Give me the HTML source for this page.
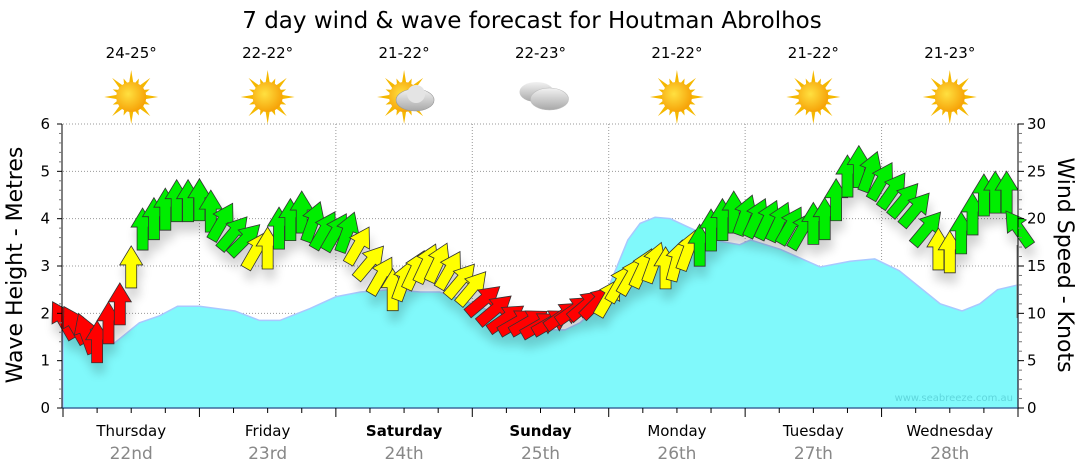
<!DOCTYPE html>
<html><head><meta charset="utf-8"><style>
html,body{margin:0;padding:0;background:#fff}
svg{display:block;font-family:"DejaVu Sans","Liberation Sans",sans-serif}
</style></head><body>
<svg id="chart" width="1080" height="475" viewBox="0 0 1080 475" xmlns="http://www.w3.org/2000/svg">
<defs>
<radialGradient id="sunG" cx="0.4" cy="0.4" r="0.7"><stop offset="0" stop-color="#ffe040"/><stop offset="1" stop-color="#f59a00"/></radialGradient>
<linearGradient id="cloudG" x1="0" y1="0" x2="0" y2="1"><stop offset="0" stop-color="#f2f2f2"/><stop offset="1" stop-color="#a8a8a8"/></linearGradient>
<filter id="shadow" x="-50%" y="-50%" width="200%" height="200%"><feGaussianBlur in="SourceAlpha" stdDeviation="5"/><feOffset dx="2" dy="10"/><feComponentTransfer><feFuncA type="linear" slope="0.18"/></feComponentTransfer><feMerge><feMergeNode/><feMergeNode in="SourceGraphic"/></feMerge></filter>
</defs>
<text x="532" y="28" font-size="23" text-anchor="middle" fill="#000">7 day wind &amp; wave forecast for Houtman Abrolhos</text>
<g id="header"></g>
<g id="grid"></g>
<g id="wave"></g>
<g id="arrows" filter="url(#shadow)"></g>
<g id="axes"></g>
<text x="1013" y="401" font-size="10" text-anchor="end" fill="#5fd6dc">www.seabreeze.com.au</text>
<text transform="translate(22,265) rotate(-90)" font-size="22" text-anchor="middle">Wave Height - Metres</text>
<text transform="translate(1058,265) rotate(90)" font-size="22" text-anchor="middle">Wind Speed - Knots</text>
</svg>
<script>
const dayNames=["Thursday","Friday","Saturday","Sunday","Monday","Tuesday","Wednesday"];
const dayDates=["22nd","23rd","24th","25th","26th","27th","28th"];
const dayTemps=["24-25°","22-22°","21-22°","22-23°","21-22°","21-22°","21-23°"];
const dayIcons=["sun","sun","suncloud","cloud","sun","sun","sun"];
const waveDay=[0,0.31,0.38,0.56,0.71,0.84,1.0,1.26,1.44,1.59,1.81,2.0,2.18,2.4,2.62,2.76,2.91,3.13,3.35,3.5,3.68,3.79,3.94,4.0,4.14,4.23,4.34,4.45,4.6,4.82,4.96,5.04,5.26,5.55,5.77,5.95,6.13,6.43,6.59,6.72,6.85,7.0];
const waveH=[1.71,1.37,1.38,1.8,1.95,2.15,2.15,2.05,1.85,1.85,2.1,2.35,2.45,2.5,2.45,2.45,2.3,2.05,1.85,1.65,1.65,1.8,2.2,2.56,3.55,3.9,4.03,4.0,3.8,3.52,3.45,3.55,3.35,2.98,3.1,3.15,2.9,2.2,2.05,2.2,2.5,2.6];
const windKn=[9.3,8.8,7.9,7.0,9.0,11,14.9,18.9,20,21,21.9,21.9,
22,20.8,19.7,18.5,17.8,16.7,16.9,19,19.9,20.7,19.7,18.8,
18.6,18.6,17.2,15.4,14,12.5,13.5,14.6,15.3,15.4,14.6,13.5,
12.7,11.4,10.4,9.5,9.1,9.1,8.8,9.1,9.8,10.4,10.9,11.2,
11.7,13.2,14,14.8,15.4,14.8,15.6,16.7,17.2,18.8,19.9,20.7,
20.4,20.1,19.9,19.7,19.3,18.8,19.5,20,22,24.5,25.5,25,
24,23,22,21,19,16.8,16.5,18.5,20.5,22.5,22.8,22.8,19];
const windDir=[-30,-30,-20,0,0,0,0,0,0,0,0,0,
0,0,30,40,45,30,0,0,0,0,20,30,
30,20,30,40,30,0,20,25,25,25,30,40,
40,50,50,55,60,60,60,60,55,55,50,45,
30,30,30,25,20,0,15,20,0,0,0,0,
20,25,25,25,30,30,0,0,0,0,0,20,
30,35,40,40,40,0,0,0,0,0,0,0,-35];
const windCol=["r","r","r","r","r","r","y","g","g","g","g","g",
"g","g","g","g","g","y","y","g","g","g","g","g",
"g","g","y","y","y","y","y","y","y","y","y","y",
"y","r","r","r","r","r","r","r","r","r","r","r",
"y","y","y","y","y","y","y","y","g","g","g","g",
"g","g","g","g","g","g","g","g","g","g","g","g",
"g","g","g","g","g","y","y","g","g","g","g","g","g"];
const leftTicks=["0","1","2","3","4","5","6"];
const rightTicks=["0","5","10","15","20","25","30"];

const NS="http://www.w3.org/2000/svg";
const X0=63,X1=1018,Y0=408,Y1=124;
const dayW=(X1-X0)/7;
const xs=d=>X0+d*dayW;
const ym=m=>Y0-(Y0-Y1)*m/6;
const yk=k=>Y0-(Y0-Y1)*k/30;
function mk(tag,attrs,parent){const e=document.createElementNS(NS,tag);for(const k in attrs)e.setAttribute(k,attrs[k]);parent.appendChild(e);return e;}
const G=id=>document.getElementById(id);

const hdr=G('header');
dayNames.forEach((n,i)=>{
  const cx=xs(i+0.5);
  const t=mk('text',{x:cx,y:58,'font-size':15,'text-anchor':'middle'},hdr);
  
  
  t.textContent=dayTemps[i];
  const g=mk('g',{},hdr);
  
  
  const cy=97;
  if(dayIcons[i]!=="cloud"){
    for(let a=0;a<16;a++){const ang=a*Math.PI/8;const L=a%2?20:27;const w=0.18;
      mk('polygon',{points:`${cx+Math.cos(ang-w)*13},${cy+Math.sin(ang-w)*13} ${cx+Math.cos(ang)*L},${cy+Math.sin(ang)*L} ${cx+Math.cos(ang+w)*13},${cy+Math.sin(ang+w)*13}`,fill:'#f5b800'},g);}
    mk('circle',{cx:cx,cy:cy,r:15,fill:'url(#sunG)'},g);
  }
  if(dayIcons[i]==="suncloud"){
    mk('ellipse',{cx:cx+11,cy:cy+3,rx:19,ry:11,fill:'url(#cloudG)',stroke:'#999','stroke-width':0.6},g);
    mk('circle',{cx:cx+12,cy:cy-3,r:9,fill:'#e4e4e4'},g);
  }
  if(dayIcons[i]==="cloud"){
    mk('ellipse',{cx:cx-4,cy:cy-5,rx:17,ry:10,fill:'url(#cloudG)'},g);
    mk('ellipse',{cx:cx+9,cy:cy+2,rx:19,ry:11,fill:'url(#cloudG)',stroke:'#bbb','stroke-width':0.6},g);
  }
  const dl=mk('text',{x:cx,y:436,'font-size':15,'text-anchor':'middle','font-weight':(i==2||i==3)?'bold':'normal'},hdr);
  
  
  dl.textContent=n;
  const dd=mk('text',{x:cx,y:459,'font-size':17,'text-anchor':'middle',fill:'#888'},hdr);
  
  
  dd.textContent=dayDates[i];
});

const grid=G('grid');
for(let m=1;m<=6;m++){const l=mk('line',{x1:X0,x2:X1,y1:ym(m),y2:ym(m),stroke:'#999','stroke-dasharray':'1,2','stroke-width':1},grid);
  
  }
for(let d=1;d<7;d++){const l=mk('line',{x1:xs(d),x2:xs(d),y1:Y1,y2:Y0,stroke:'#999','stroke-dasharray':'1,2'},grid);
  
  }

let p=`M${xs(waveDay[0])},${Y0}`;
waveDay.forEach((d,i)=>{p+=` L${xs(d)},${ym(waveH[i])}`});
p+=` L${X1},${Y0} Z`;
const wa=mk('path',{d:p,fill:'#80f9fb',stroke:'#a8c8ff','stroke-width':1.5},G('wave'));


const gl=mk('line',{x1:1017,x2:1017,y1:245,y2:318,stroke:'#888','stroke-width':1},G('wave'));



const cols={r:'#ff0000',y:'#ffff00',g:'#00ee00'};
const ag=G('arrows');
const step=dayW/12;
windKn.forEach((k,i)=>{
  const x=X0+i*step, y=yk(k);
  const a=mk('polygon',{points:'0,-21 11.5,-2 5.5,-2 5.5,21 -5.5,21 -5.5,-2 -11.5,-2',transform:`translate(${x},${y}) rotate(${windDir[i]})`,fill:cols[windCol[i]],stroke:'#333','stroke-width':0.8},ag);
  
  
});

const ax=G('axes');
mk('line',{x1:X0-1,x2:X0-1,y1:Y1,y2:Y0,stroke:'#000'},ax);
mk('line',{x1:X1,x2:X1,y1:Y1,y2:Y0,stroke:'#000'},ax);
mk('line',{x1:X0-1,x2:X1,y1:Y0,y2:Y0,stroke:'#0a3a6a'},ax);
for(let k=0;k<=30;k++){const y=yk(k);const maj=k%5==0;
  mk('line',{x1:X0-(maj?6:4),x2:X0-1,y1:y,y2:y,stroke:maj?'#000':'#777'},ax);
  mk('line',{x1:X1,x2:X1+(maj?6:4),y1:y,y2:y,stroke:maj?'#000':'#777'},ax);}
leftTicks.forEach((t,i)=>{const e=mk('text',{x:50,y:ym(i)+5,'font-size':15,'text-anchor':'end'},ax);
  
  
  e.textContent=t;});
rightTicks.forEach((t,i)=>{const e=mk('text',{x:1027,y:yk(i*5)+5,'font-size':15},ax);
  
  
  e.textContent=t;});
for(let q=0;q<=28;q++){const x=xs(q/4);mk('line',{x1:x,x2:x,y1:Y0,y2:Y0+(q%4==0?9:5),stroke:'#000'},ax);}
</script>
</body></html>
